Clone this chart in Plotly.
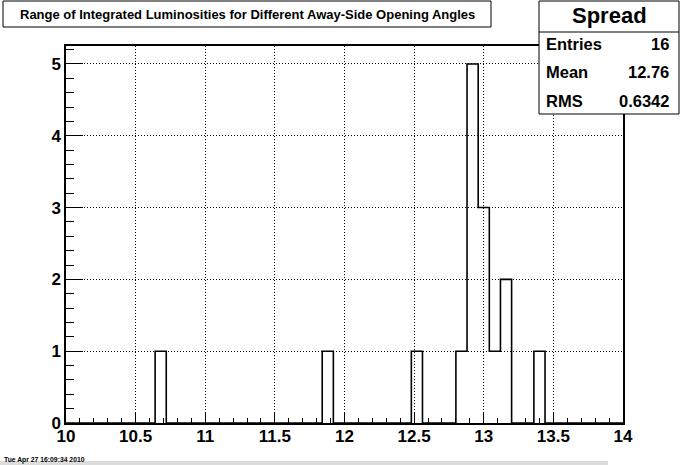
import numpy as np
import plotly.graph_objects as go

# ---- data ----
x_min, x_max, n_bins = 10.0, 14.0, 50
bin_centers = [10.68, 11.88, 12.52, 12.84, 12.92, 13.00, 13.08, 13.16, 13.40]
bin_counts = [1, 1, 1, 1, 5, 3, 1, 2, 1]
x_tickvals = [10, 10.5, 11, 11.5, 12, 12.5, 13, 13.5, 14]
x_ticktext = ["10", "10.5", "11", "11.5", "12", "12.5", "13", "13.5", "14"]
y_tickvals = [0, 1, 2, 3, 4, 5]
title_text = "Range of Integrated Luminosities for Different Away-Side Opening Angles"
stats_name = "Spread"
stats_labels = ["Entries", "Mean", "RMS"]
stats_values = ["16", "12.76", "0.6342"]
date_text = "Tue Apr 27 16:09:34 2010"

# ---- build histogram step ----
edges = np.linspace(x_min, x_max, n_bins + 1)
width = (x_max - x_min) / n_bins
counts = np.zeros(n_bins)
for c, n in zip(bin_centers, bin_counts):
    counts[int(round((c - x_min) / width - 0.5))] += n
y_step = list(counts) + [counts[-1]]
ymax = counts.max() * 1.05

FONT = "Liberation Sans"
W, H = 681, 465
ML, MR, MT, MB = 66, 58, 46, 42
PW, PH = W - ML - MR, H - MT - MB


def px(xp):
    return (xp - ML) / PW


def py(yp):
    return (H - MB - yp) / PH


fig = go.Figure()
fig.add_trace(go.Scatter(
    x=edges, y=y_step, mode="lines", line=dict(shape="hv", color="black", width=1.6),
    hoverinfo="skip", showlegend=False, cliponaxis=False,
))

axis_common = dict(
    showline=True, linecolor="black", linewidth=1.5, mirror=True,
    ticks="inside", tickcolor="black", tickwidth=1.2,
    showgrid=True, gridcolor="black", gridwidth=1, griddash="1px,2px",
    zeroline=False,
    tickfont=dict(family=FONT, size=17, color="black", weight="bold"),
)

fig.update_xaxes(
    range=[x_min, x_max], tickvals=x_tickvals, ticktext=x_ticktext, ticklen=11,
    ticklabelstandoff=-3,
    minor=dict(dtick=0.1, ticks="inside", ticklen=5.5, tickcolor="black", showgrid=False),
    **axis_common,
)
fig.update_yaxes(
    range=[0, ymax], tickvals=y_tickvals, ticklen=17,
    minor=dict(dtick=0.2, ticks="inside", ticklen=8, tickcolor="black", showgrid=False),
    **axis_common,
)

shapes = []
annotations = []

# Title box
shapes.append(dict(type="rect", xref="paper", yref="paper",
                   x0=px(3), x1=px(491), y0=py(27), y1=py(1),
                   line=dict(color="black", width=1), fillcolor="white"))
annotations.append(dict(text=title_text, xref="paper", yref="paper",
                        x=px(247), y=py(14), xanchor="center", yanchor="middle",
                        showarrow=False,
                        font=dict(family=FONT, size=13, color="black", weight="bold")))

# Stats box
shapes.append(dict(type="rect", xref="paper", yref="paper",
                   x0=px(539), x1=px(679), y0=py(114), y1=py(1),
                   line=dict(color="black", width=1), fillcolor="white"))
shapes.append(dict(type="line", xref="paper", yref="paper",
                   x0=px(539), x1=px(679), y0=py(32), y1=py(32),
                   line=dict(color="black", width=1)))
annotations.append(dict(text=stats_name, xref="paper", yref="paper",
                        x=px(609), y=py(16), xanchor="center", yanchor="middle",
                        showarrow=False,
                        font=dict(family=FONT, size=22, color="black", weight="bold")))
for i, (lab, val) in enumerate(zip(stats_labels, stats_values)):
    yy = py(44 + i * 28.3)
    annotations.append(dict(text=lab, xref="paper", yref="paper", x=px(544), y=yy,
                            xanchor="left", yanchor="middle", showarrow=False,
                            font=dict(family=FONT, size=16.5, color="black", weight="bold")))
    annotations.append(dict(text=val, xref="paper", yref="paper", x=px(671), y=yy,
                            xanchor="right", yanchor="middle", showarrow=False,
                            font=dict(family=FONT, size=16.5, color="black", weight="bold")))

# Date stamp band
shapes.append(dict(type="rect", xref="paper", yref="paper",
                   x0=px(0), x1=px(608), y0=py(470), y1=py(461),
                   line=dict(width=0), fillcolor="#dcdcdc"))
annotations.append(dict(text=date_text, xref="paper", yref="paper", x=px(2), y=py(460),
                        xanchor="left", yanchor="middle", showarrow=False,
                        font=dict(family=FONT, size=6.8, color="black", weight="bold")))

fig.update_layout(
    width=W, height=H, margin=dict(l=ML, r=MR, t=MT, b=MB, pad=0),
    paper_bgcolor="white", plot_bgcolor="white",
    shapes=shapes, annotations=annotations, showlegend=False,
)

fig.write_html(
    "out.html",
    config={"displayModeBar": False},
    post_script="document.body.style.margin='0px';document.body.style.overflow='hidden';",
)
